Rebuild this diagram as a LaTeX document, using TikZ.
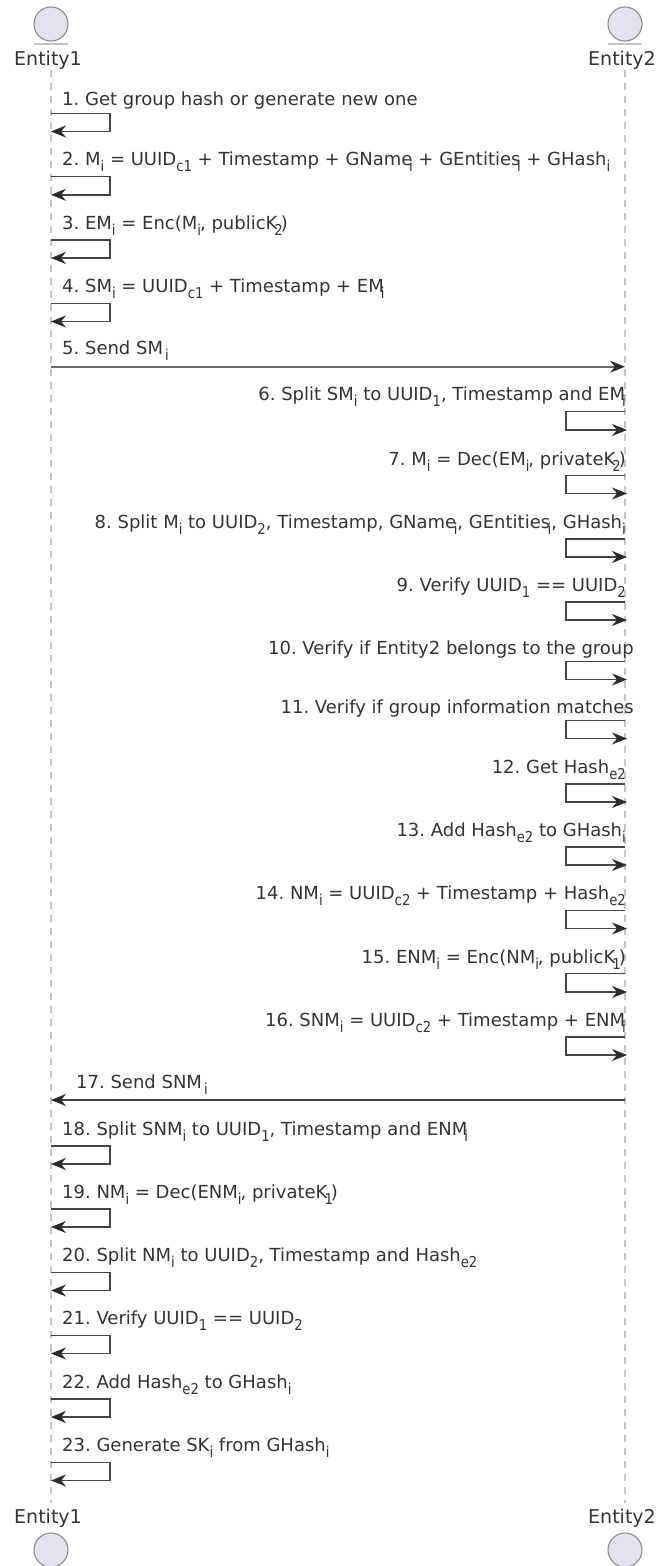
\documentclass[tikz,border=0pt]{standalone}
\usepackage{fontspec}
\setmainfont{DejaVu Sans}
\usetikzlibrary{arrows.meta}
\definecolor{ink}{HTML}{333333}
\definecolor{edge}{HTML}{444444}
\definecolor{tip}{HTML}{2A2A2A}
\definecolor{life}{HTML}{C4C4C4}
\definecolor{actorfill}{HTML}{E2E2F0}
\definecolor{actoredge}{HTML}{8C8C8C}
\newcommand{\Sb}[3][0]{\kern#1pt\relax\raisebox{-6pt}{\scalebox{.88}[1]{\fontsize{15}{15}\selectfont #2}}\kern#3pt\relax}
\newcommand{\selfL}[3]{% name, y
  \coordinate (#1a) at (51,#2);\coordinate (#1b) at (110,#2);\coordinate (#1c) at (110,#3);\coordinate (#1d) at (51,#3);
  \draw[msg] (#1a) -- (#1b) -- (#1c) -- (#1d);}
\newcommand{\selfR}[3]{%
  \coordinate (#1a) at (625,#2);\coordinate (#1b) at (566,#2);\coordinate (#1c) at (566,#3);\coordinate (#1d) at (627,#3);
  \draw[msg] (#1a) -- (#1b) -- (#1c) -- (#1d);}
\tikzset{
  lbl/.style={inner sep=0pt,text=ink,font=\fontsize{18}{20}\selectfont\frenchspacing},
  msgl/.style={lbl,anchor=base west},
  msgr/.style={lbl,anchor=base east},
  actorname/.style={inner sep=0pt,text=ink,font=\fontsize{19}{22}\selectfont,anchor=base},
  msg/.style={draw=edge,line width=1.4pt,-{Stealth[length=15pt,width=12pt,inset=5pt,color=tip]}},
  lifeline/.style={draw=life,line width=1.8pt,dash pattern=on 7pt off 6pt},
  actorhead/.style={circle,draw=actoredge,fill=actorfill,line width=1.1pt,minimum size=34pt,inner sep=0pt},
}
\begin{document}
\begin{tikzpicture}[x=1pt,y=-1pt]
\useasboundingbox (0,0) rectangle (657,1566);
\clip (0,0) rectangle (657,1566);
% lifelines ends
\coordinate (l1t) at (51,70);\coordinate (l1b) at (51,1503);
\coordinate (l2t) at (625,70);\coordinate (l2b) at (625,1503);
\draw[lifeline] (l1t) -- (l1b);
\draw[lifeline] (l2t) -- (l2b);
% actors
\node[actorhead] (h1) at (51,24) {};
\node[actorhead] (h2) at (625,24) {};
\coordinate (u1a) at (34,43.7);\coordinate (u1b) at (68,43.7);
\coordinate (u2a) at (608,43.7);\coordinate (u2b) at (642,43.7);
\draw[life,line width=1.6pt] (u1a) -- (u1b);
\draw[life,line width=1.6pt] (u2a) -- (u2b);
\node[actorname] (t1) at (48,65) {Entity1};
\node[actorname] (t2) at (622,65) {Entity2};
\node[actorname] (b1) at (48,1523) {Entity1};
\node[actorname] (b2) at (622,1523) {Entity2};
\node[actorhead] (f1) at (51,1550) {};
\node[actorhead] (f2) at (625,1550) {};
% messages 1-5
\node[msgl] (m1) at (62,105.6) {1. Get group hash or generate new one};
\selfL{s1}{113.3}{131.5}
\node[msgl] (m2) at (62,165) {2. M\Sb{i}{0} = UUID\Sb{c1}{0} + Timestamp + GName\Sb[-3.5]{i}{0} + GEntities\Sb[-3.5]{i}{0} + GHash\Sb{i}{0}};
\selfL{s2}{176.6}{194.8}
\node[msgl] (m3) at (62,229) {3. EM\Sb{i}{0} = Enc(M\Sb{i}{-1}, publicK\Sb[-3]{2}{-2})};
\selfL{s3}{240}{258}
\node[msgl] (m4) at (62,292) {4. SM\Sb{i}{0} = UUID\Sb{c1}{0} + Timestamp + EM\Sb[-3]{i}{0}};
\selfL{s4}{303.3}{321.5}
\node[msgl] (m5) at (62,354) {5. Send SM\Sb[2]{i}{0}};
\coordinate (a5) at (51,366.7);\coordinate (b5) at (625,366.7);
\draw[msg,line width=1.8pt,draw=edge!80] (a5) -- (b5);
% messages 6-16
\node[msgr] (m6) at (626,400.7) {6. Split SM\Sb{i}{0} to UUID\Sb{1}{0}, Timestamp and EM\Sb[-3]{i}{0}};
\selfR{s6}{411.7}{430}
\node[msgr] (m7) at (626,465) {7. M\Sb{i}{0} = Dec(EM\Sb{i}{-1}, privateK\Sb[-3]{2}{-2})};
\selfR{s7}{475.5}{493.5}
\node[msgr] (m8) at (626,528) {8. Split M\Sb{i}{0} to UUID\Sb{2}{0}, Timestamp, GName\Sb[-2.5]{i}{0}, GEntities\Sb[-2.5]{i}{0}, GHash\Sb{i}{0}};
\selfR{s8}{538.8}{557}
\node[msgr] (m9) at (626,591) {9. Verify UUID\Sb{1}{0} == UUID\Sb{2}{0}};
\selfR{s9}{602}{620}
\node[msgr] (m10) at (634,654) {10. Verify if Entity2 belongs to the group};
\selfR{s10}{661.3}{679.5}
\node[msgr] (m11) at (634,713) {11. Verify if group information matches};
\selfR{s11}{720.5}{738.5}
\node[msgr] (m12) at (626,773) {12. Get Hash\Sb{e2}{0}};
\selfR{s12}{784}{802}
\node[msgr] (m13) at (626,836) {13. Add Hash\Sb{e2}{0} to GHash\Sb{i}{0}};
\selfR{s13}{847}{865}
\node[msgr] (m14) at (626,899) {14. NM\Sb{i}{0} = UUID\Sb{c2}{0} + Timestamp + Hash\Sb{e2}{0}};
\selfR{s14}{910.3}{928.5}
\node[msgr] (m15) at (626,963) {15. ENM\Sb{i}{0} = Enc(NM\Sb{i}{-1}, publicK\Sb[-3]{1}{-2})};
\selfR{s15}{973.7}{992}
\node[msgr] (m16) at (626,1026) {16. SNM\Sb{i}{0} = UUID\Sb{c2}{0} + Timestamp + ENM\Sb[-3]{i}{0}};
\selfR{s16}{1037}{1055}
% message 17
\node[msgl] (m17) at (76,1088) {17. Send SNM\Sb[2]{i}{0}};
\coordinate (a17) at (625,1100);\coordinate (b17) at (51,1100);
\draw[msg,line width=1.1pt] (a17) -- (b17);
% messages 18-23
\node[msgl] (m18) at (62,1135) {18. Split SNM\Sb{i}{0} to UUID\Sb{1}{0}, Timestamp and ENM\Sb[-3]{i}{0}};
\selfL{s18}{1146}{1164}
\node[msgl] (m19) at (62,1198) {19. NM\Sb{i}{0} = Dec(ENM\Sb{i}{-1}, privateK\Sb[-3]{1}{-2})};
\selfL{s19}{1209}{1227}
\node[msgl] (m20) at (62,1261) {20. Split NM\Sb{i}{0} to UUID\Sb{2}{0}, Timestamp and Hash\Sb{e2}{0}};
\selfL{s20}{1272.5}{1290.5}
\node[msgl] (m21) at (62,1324) {21. Verify UUID\Sb{1}{0} == UUID\Sb{2}{0}};
\selfL{s21}{1335.5}{1353.5}
\node[msgl] (m22) at (62,1388) {22. Add Hash\Sb{e2}{0} to GHash\Sb{i}{0}};
\selfL{s22}{1399}{1417}
\node[msgl] (m23) at (62,1451) {23. Generate SK\Sb{i}{0} from GHash\Sb{i}{0}};
\selfL{s23}{1462.5}{1480.5}
\end{tikzpicture}
\end{document}
